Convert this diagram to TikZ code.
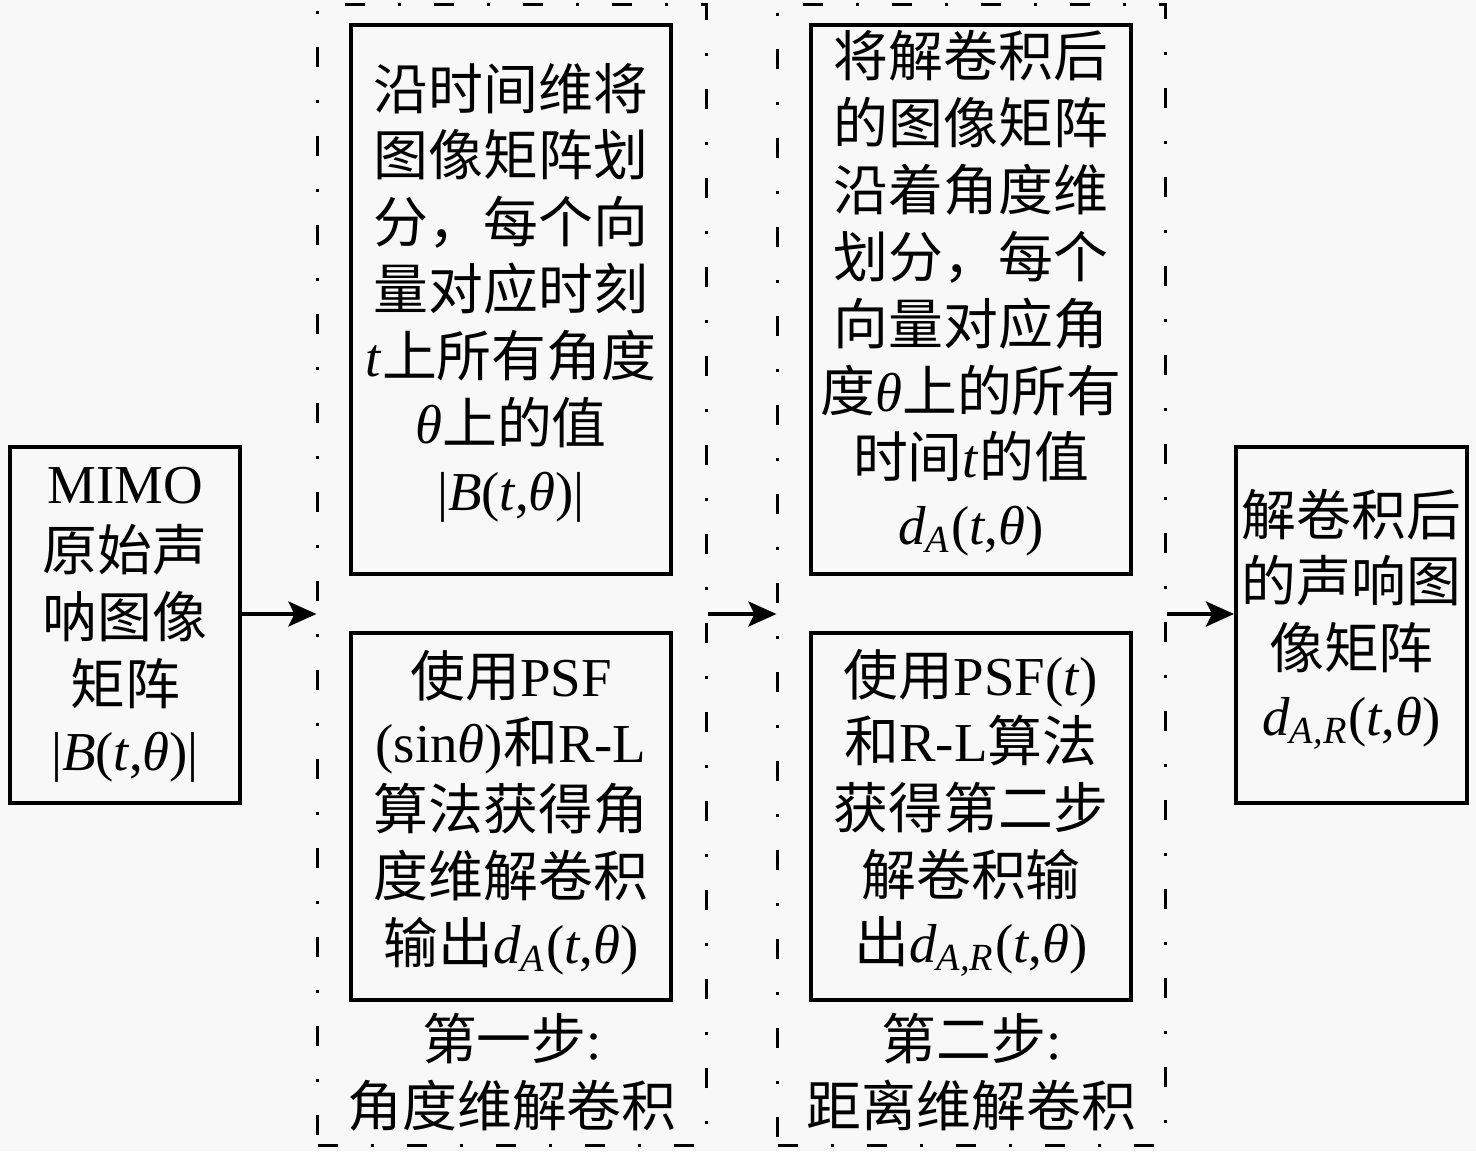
\documentclass[tikz,border=0pt]{standalone}
\usepackage{fontspec}
\setmainfont{Liberation Serif}
\newfontfamily\cjk{Noto Sans CJK SC}
\newcommand{\zh}[1]{{\cjk #1}}
\newcommand{\tvar}{\textit{t}}
\newcommand{\thvar}{\textit{θ}}
\newcommand{\dvar}[1]{\textit{d}\textsubscript{\textit{#1}}}
\definecolor{bgcol}{HTML}{F8F8F8}
\usetikzlibrary{arrows.meta}

\begin{document}
\begin{tikzpicture}[x=0.01cm, y=-0.01cm,
    every node/.style={font=\fontsize{15.6}{19}\selectfont, align=center},
    blockbox/.style={draw, line width=1.1pt, inner sep=0pt},
    stagebox/.style={draw, line width=0.85pt,
      dash pattern=on 0.2cm off 0.33cm on 0.03cm off 0.33cm, inner sep=0pt},
    arr/.style={line width=1pt, -{Stealth[length=0.28cm, width=0.25cm, inset=0.06cm]}}]
  \fill[bgcol] (0,0) rectangle (1476,1151);
  \useasboundingbox (0,0) rectangle (1476,1151);
  \coordinate (mid) at (0,614);
  % input and output
  \node[blockbox, minimum width=2.3cm, minimum height=3.56cm] (src) at (125,625)
    {MIMO\\\zh{原始声}\\\zh{呐图像}\\\zh{矩阵}\\|\textit{B}(\tvar,\thvar)|};
  \node[blockbox, minimum width=2.31cm, minimum height=3.56cm,
    label={[yshift=0.06cm]center:\zh{解卷积后}\\\zh{的声响图}\\\zh{像矩阵}\\\dvar{A,R}(\tvar,\thvar)}] (dst) at (1351.5,625) {};
  % stage 1
  \node[stagebox, minimum width=3.88cm, minimum height=11.4cm] (stage1) at (512,575) {};
  \node[blockbox, minimum width=3.2cm, minimum height=5.49cm,
    label={[yshift=0.07cm]center:\zh{沿时间维将}\\\zh{图像矩阵划}\\\zh{分，每个向}\\\zh{量对应时刻}\\\tvar\zh{上所有角度}\\\thvar\zh{上的值}\\|\textit{B}(\tvar,\thvar)|}] (up1) at (511,299.5) {};
  \node[blockbox, minimum width=3.2cm, minimum height=3.67cm,
    label={[yshift=0.04cm]center:\zh{使用}PSF\\(sin\thvar)\zh{和}R-L\\\zh{算法获得角}\\\zh{度维解卷积}\\\zh{输出}\dvar{A}(\tvar,\thvar)}] (low1) at (511,816.5) {};
  \node (lab1) at (512,1072) {\zh{第一步}:\\\zh{角度维解卷积}};
  % stage 2
  \node[stagebox, minimum width=3.87cm, minimum height=11.4cm] (stage2) at (971.5,575) {};
  \node[blockbox, minimum width=3.2cm, minimum height=5.49cm,
    label={[yshift=0.06cm]center:\zh{将解卷积后}\\\zh{的图像矩阵}\\\zh{沿着角度维}\\\zh{划分，每个}\\\zh{向量对应角}\\\zh{度}\thvar\zh{上的所有}\\\zh{时间}\tvar\zh{的值}\\\dvar{A}(\tvar,\thvar)}] (up2) at (971,299.5) {};
  \node[blockbox, minimum width=3.2cm, minimum height=3.67cm,
    label={[yshift=0.04cm]center:\zh{使用}PSF(\tvar)\\\zh{和}R-L\zh{算法}\\\zh{获得第二步}\\\zh{解卷积输}\\\zh{出}\dvar{A,R}(\tvar,\thvar)}] (low2) at (971,816.5) {};
  \node (lab2) at (971.5,1072) {\zh{第二步}:\\\zh{距离维解卷积}};
  % connectors
  \draw[arr] (src.east |- mid) -- (stage1.west |- mid);
  \draw[arr] (stage1.east |- mid) -- (stage2.west |- mid);
  \draw[arr] (stage2.east |- mid) -- (dst.west |- mid);
\end{tikzpicture}
\end{document}
